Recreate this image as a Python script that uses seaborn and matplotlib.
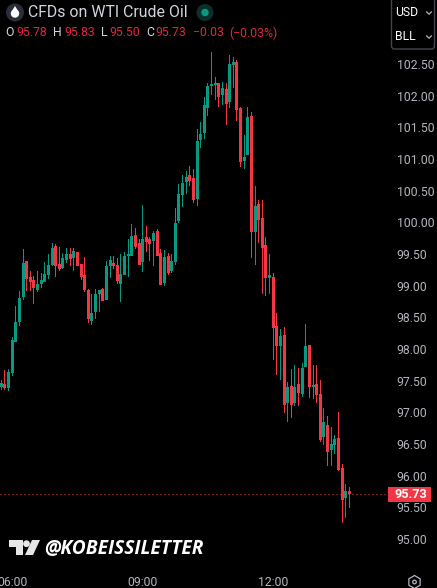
import matplotlib
matplotlib.use('Agg')
import matplotlib.pyplot as plt
from matplotlib.patches import Circle, Polygon, Rectangle, FancyBboxPatch, RegularPolygon
from matplotlib.transforms import ScaledTranslation
import pandas as pd
import seaborn as sns

opens = [97.42, 97.47, 97.40, 97.64, 98.12, 98.44, 98.84, 99.41, 99.16, 99.11,
         98.95, 99.04, 99.08, 99.19, 99.35, 99.64, 99.36, 99.30, 99.42, 99.52,
         99.46, 99.55, 99.36, 99.19, 98.95, 98.46, 98.60, 98.89, 98.97, 98.79,
         99.32, 99.38, 99.35, 99.04, 99.19, 99.48, 99.48, 99.82, 99.69, 99.39,
         99.78, 99.75, 99.72, 99.88, 99.53, 99.06, 99.49, 99.25, 99.39, 100.04,
         100.45, 100.66, 100.77, 100.72, 100.39, 101.32, 101.43, 101.82, 102.17, 102.19,
         102.22, 102.03, 102.12, 101.92, 102.50, 102.55, 101.82, 100.99, 101.08, 101.70,
         99.87, 100.31, 100.09, 99.66, 99.14, 99.16, 98.38, 98.06, 98.24, 97.17,
         97.43, 97.16, 97.47, 97.31, 97.73, 98.08, 97.42, 97.47, 97.31, 96.63,
         96.82, 96.42, 96.50, 96.61, 96.14, 95.66, 95.78]
highs = [97.53, 97.69, 97.70, 98.21, 98.70, 98.93, 99.60, 99.41, 99.24, 99.17,
         99.25, 99.22, 99.39, 99.52, 99.69, 99.68, 99.63, 99.53, 99.61, 99.61,
         99.61, 99.55, 99.36, 99.47, 98.97, 98.89, 98.97, 98.95, 98.98, 99.41,
         99.49, 99.49, 99.46, 99.52, 99.55, 99.75, 99.99, 99.93, 99.75, 100.29,
         99.96, 99.78, 99.88, 99.91, 99.59, 99.58, 99.53, 99.51, 100.24, 100.62,
         100.77, 100.83, 100.91, 100.86, 101.49, 101.60, 102.00, 102.22, 102.71, 102.31,
         102.22, 102.23, 102.22, 102.66, 102.63, 102.58, 101.84, 101.40, 101.84, 101.76,
         100.59, 100.37, 100.37, 99.79, 99.51, 99.21, 98.58, 98.33, 98.36, 97.50,
         97.70, 97.77, 97.72, 97.80, 98.41, 98.08, 97.77, 97.76, 97.53, 97.09,
         96.96, 96.78, 96.66, 97.02, 96.20, 95.88, 95.83]
lows = [97.37, 97.37, 97.35, 97.59, 98.12, 98.38, 98.79, 98.93, 98.93, 98.73,
        98.92, 98.98, 99.08, 99.12, 99.32, 99.16, 99.24, 99.28, 99.38, 99.32,
        99.25, 99.33, 99.11, 98.92, 98.43, 98.40, 98.49, 98.60, 98.78, 98.79,
        99.14, 99.28, 99.04, 98.76, 99.19, 99.16, 99.48, 99.59, 99.35, 99.23,
        99.54, 99.41, 99.33, 99.48, 99.03, 99.01, 99.19, 99.22, 99.35, 100.01,
        100.26, 100.47, 100.59, 100.32, 100.27, 101.19, 101.33, 101.70, 102.03, 101.95,
        101.84, 101.87, 101.56, 101.82, 102.14, 101.62, 100.89, 100.86, 101.08, 99.46,
        99.35, 99.69, 98.88, 98.86, 98.89, 97.84, 97.61, 97.53, 97.00, 96.87,
        96.93, 97.12, 97.12, 97.26, 97.73, 97.24, 97.23, 97.17, 96.55, 96.50,
        96.17, 96.17, 96.35, 96.09, 95.27, 95.35, 95.50]
closes = [97.48, 97.40, 97.65, 98.16, 98.44, 98.82, 99.38, 99.12, 99.08, 98.98,
          99.04, 99.11, 99.20, 99.35, 99.61, 99.33, 99.28, 99.46, 99.52, 99.44,
          99.57, 99.33, 99.16, 98.95, 98.49, 98.59, 98.89, 98.95, 98.78, 99.32,
          99.42, 99.33, 99.09, 99.20, 99.49, 99.51, 99.80, 99.62, 99.35, 99.75,
          99.70, 99.67, 99.85, 99.48, 99.03, 99.47, 99.22, 99.41, 100.01, 100.47,
          100.64, 100.73, 100.67, 100.37, 101.30, 101.41, 101.87, 102.17, 102.19, 102.22,
          102.00, 102.14, 101.89, 102.52, 102.55, 101.79, 100.97, 101.05, 101.68, 99.87,
          100.28, 100.06, 99.61, 99.14, 99.19, 98.35, 98.06, 98.22, 97.13, 97.42,
          97.13, 97.42, 97.32, 97.72, 98.06, 97.42, 97.45, 97.29, 96.58, 96.87,
          96.39, 96.52, 96.60, 96.11, 95.63, 95.77, 95.73]
price_ticks = [95.0, 95.5, 96.0, 96.5, 97.0, 97.5, 98.0, 98.5, 99.0, 99.5, 100.0,
               100.5, 101.0, 101.5, 102.0, 102.5]
time_ticks = [3, 39, 75]
time_labels = ['06:00', '09:00', '12:00']
last_price = 95.73

UP = '#089981'
DOWN = '#f23645'
GREY = '#b2b5be'
TITLE = 'CFDs on WTI Crude Oil'

sns.set_theme(style='dark', rc={'axes.facecolor': 'black', 'figure.facecolor': 'black'})
plt.rcParams['font.family'] = ['Roboto', 'DejaVu Sans']

df = pd.DataFrame({'i': range(len(opens)), 'o': opens, 'h': highs, 'l': lows, 'c': closes})
df['up'] = df['c'] >= df['o']
df['body_low'] = df[['o', 'c']].min(axis=1)
df['body_h'] = (df['o'] - df['c']).abs().clip(lower=0.03)
df['wick_h'] = df['h'] - df['l']

W, H = 437, 588
fig = plt.figure(figsize=(W / 100, H / 100), dpi=100)
ax = fig.add_axes([0, 1 - 570 / H, 388 / W, 570 / H])

# wicks first, then bodies on top
for up, color in [(True, UP), (False, DOWN)]:
    part = df[df['up'] == up]
    sns.barplot(data=part, x='i', y='wick_h', bottom=part['l'].values, native_scale=True,
                width=0.27, color=color, saturation=1, errorbar=None, linewidth=0, ax=ax)
    sns.barplot(data=part, x='i', y='body_h', bottom=part['body_low'].values, native_scale=True,
                width=0.8, color=color, saturation=1, errorbar=None, linewidth=0, ax=ax)

ax.set_xlim(-0.359, 106.67)
ax.set_ylim(94.526, 103.527)
ax.axhline(last_price, color=DOWN, lw=0.72, ls=(0, (1, 3)))
ax.grid(False)
ax.set(xlabel='', ylabel='')
for s in ax.spines.values():
    s.set_visible(False)
ax.yaxis.tick_right()
ax.set_yticks(price_ticks, [f'{p:.2f}' for p in price_ticks])
ax.set_xticks(time_ticks, time_labels)
ax.tick_params(axis='y', length=0, pad=6.2, labelsize=8.8, labelcolor=GREY)
ax.tick_params(axis='x', length=0, pad=4, labelsize=8.8, labelcolor=GREY)
# nudge the price labels up a pixel
up_one = ScaledTranslation(0, 1 / 100, fig.dpi_scale_trans)
for lab in ax.get_yticklabels():
    lab.set_transform(lab.get_transform() + up_one)

# header, watermark and price tag live on an overlay axes in pixel units
over = fig.add_axes([0, 0, 1, 1], facecolor='none')
over.set_xlim(0, W)
over.set_ylim(H, 0)
over.axis('off')
over.add_patch(Circle((15, 12.5), 9, color='#2a2e39', lw=0))
over.add_patch(Circle((15, 13.5), 4.2, color='white', lw=0))
over.add_patch(Polygon([(11.6, 11.5), (15, 6), (18.4, 11.5)], color='white', lw=0))
over.add_patch(Circle((205, 12.5), 8.5, color='#0c2f2a', lw=0))
over.add_patch(Circle((205, 12.5), 3.7, color=UP, lw=0))
# currency box
over.add_patch(FancyBboxPatch((391.5, -6), 43, 55, boxstyle='round,pad=0,rounding_size=3',
                              fc='black', ec='#434651', lw=1))
# last price tag
over.add_patch(Rectangle((388, 487), 43, 15, color=DOWN, lw=0))
# tradingview mark
over.add_patch(Polygon([(9, 540), (23, 540), (23, 555), (16, 555), (16, 547), (9, 547)],
                       color='#e6e6e6', lw=0))
over.add_patch(Circle((26.5, 543.7), 3.4, color='#e6e6e6', lw=0))
over.add_patch(Polygon([(32, 540), (40, 540), (33, 555), (25, 555)], color='#e6e6e6', lw=0))
# settings icon
over.add_patch(RegularPolygon((414.5, 582), 6, radius=6.5, fc='none', ec=GREY, lw=0.9))
over.add_patch(Circle((414.5, 582), 1.8, fc='none', ec=GREY, lw=0.9))

over.text(28, 12.5, TITLE, color='#d1d4dc', fontsize=11.4, va='center')
red_text = '#e0283c'
for x, label in [(5, 'O'), (53, 'H'), (101, 'L'), (146, 'C')]:
    over.text(x, 33, label, color='#d1d4dc', fontsize=8.8, va='center')
for x, value in [(16, '95.78'), (64, '95.83'), (109, '95.50'), (155, '95.73')]:
    over.text(x, 33, value, color=red_text, fontsize=8.8, va='center')
over.text(193, 33, '\u22120.03', color=red_text, fontsize=8.8, va='center')
over.text(229, 33, '(\u22120.03%)', color=red_text, fontsize=8.8, va='center')
over.text(395, 12.5, 'USD', color='white', fontsize=8.8, va='center')
over.text(395, 36, 'BLL', color='white', fontsize=8.8, va='center')
for y in (13, 37):
    over.plot([426.5, 429, 431.5], [y - 1.2, y + 1.2, y - 1.2], color=GREY, lw=0.9)
over.text(411, 494.3, f'{last_price:.2f}', color='white', fontsize=9.2, fontweight='bold',
          ha='center', va='center')
over.text(44, 549, '@KOBEISSILETTER', color='white', fontsize=13.8, fontweight='bold',
          fontstyle='italic', va='center', family='Open Sans')

fig.savefig('out.png', dpi=100, facecolor='black')
